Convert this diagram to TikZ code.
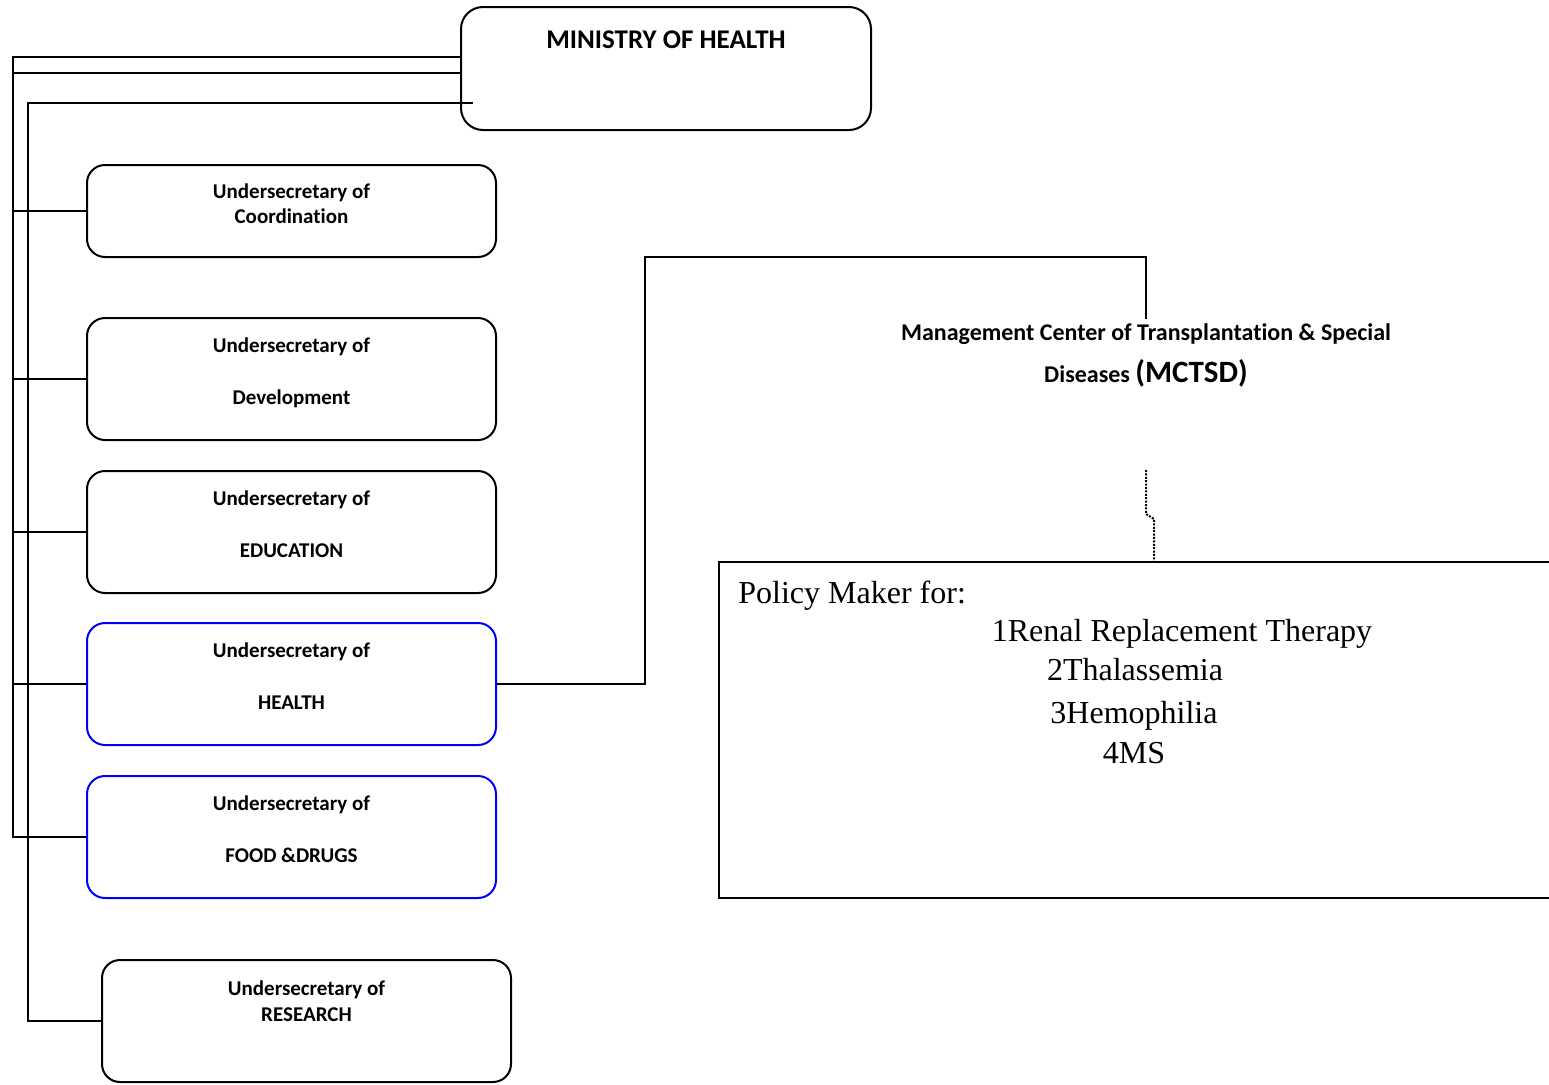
\documentclass[tikz,border=0pt]{standalone}
\usepackage{fontspec}
\setmainfont{Carlito}[Ligatures=CommonOff]
\newfontfamily\policyfont{Liberation Serif}
\usetikzlibrary{positioning}

\begin{document}
\begin{tikzpicture}[x=0.5pt, y=-0.5pt,
    usbox/.style={draw, line width=1pt, rounded corners=9pt, minimum width=204.5pt, minimum height=61pt,
        align=center, text depth=8pt, font=\bfseries\fontsize{10.5}{11.5}\selectfont},
    link/.style={line width=1pt},
    policytext/.style={font=\policyfont\fontsize{16}{18}\selectfont, anchor=base, inner sep=0pt}]

    % Fix the page size
    \useasboundingbox (0,0) rectangle (1549,1084);

    % Draw the ministry box
    \node[usbox, minimum width=205pt, minimum height=61.5pt, rounded corners=11pt, text depth=29pt,
        font=\bfseries\fontsize{13.5}{16}\selectfont] (moh) at (666,68.5) {MINISTRY OF HEALTH};

    % Draw the undersecretary boxes
    \node[usbox, minimum height=46pt, text depth=7.3pt] (coord) at (291.5,211) {Undersecretary of\\[1pt]Coordination};
    \node[usbox] (dev) at (291.5,379) {Undersecretary of\\[14.5pt]Development};
    \node[usbox] (edu) at (291.5,532) {Undersecretary of\\[14.5pt]EDUCATION};
    \node[usbox, draw=blue] (hea) at (291.5,684) {Undersecretary of\\[14.5pt]HEALTH};
    \node[usbox, draw=blue] (food) at (291.5,837) {Undersecretary of\\[14.5pt]FOOD \&DRUGS};
    \node[usbox, text depth=20pt] (res) at (306.5,1021) {Undersecretary of\\[1.5pt]RESEARCH};

    % Draw the MCTSD title
    \node[anchor=north, inner sep=2pt, align=center, font=\bfseries\fontsize{12}{14.5}\selectfont] (mctsd) at (1146,319)
        {Management Center of Transplantation \& Special\\[6.5pt]Diseases {\fontsize{15.5}{17}\selectfont (MCTSD)}};

    % Draw the policy box and its text
    \node[draw, line width=1pt, minimum width=420.5pt, minimum height=168pt] (policy) at (1139.5,730) {};
    \node[policytext, anchor=base west] (pmf) at (738,603) {Policy Maker for:};
    \node[policytext] (rrt) at (1182,641) {1Renal Replacement Therapy};
    \node[policytext] (thal) at (1135,680) {2Thalassemia};
    \node[policytext] (hemo) at (1134,723) {3Hemophilia};
    \node[policytext] (ms) at (1134,763) {4MS};

    % Define the trunk points
    \coordinate (topA) at (13,57);
    \coordinate (midA) at (13,73);
    \coordinate (topB) at (28,103);
    \coordinate (stub) at (473,103);

    % Draw the trunk lines from the ministry
    \draw[link] (moh.west |- topA) -- (topA) -- (midA);
    \draw[link, line width=1.4pt] (moh.west |- midA) -- (midA) -- (midA |- food.west) -- (food.west);
    \foreach \b in {coord,dev,edu,hea}
        \draw[link] (midA |- \b.west) -- (\b.west);
    \draw[link] (stub) -- (topB) -- (topB |- res.west) -- (res.west);

    % Draw the health link to the MCTSD
    \coordinate (bendH) at (645,257);
    \draw[link] (hea.east) -| (bendH) -| (mctsd.north);

    % Draw the dotted link to the policy box
    \coordinate (dotA) at (1146,470);
    \coordinate (dotB) at (1146,514);
    \coordinate (dotC) at (1154,519);
    \draw[line width=1pt, dash pattern=on 1pt off 0.7pt] (dotA) -- (dotB) -- (dotC) -- (dotC |- policy.north);
\end{tikzpicture}
\end{document}
